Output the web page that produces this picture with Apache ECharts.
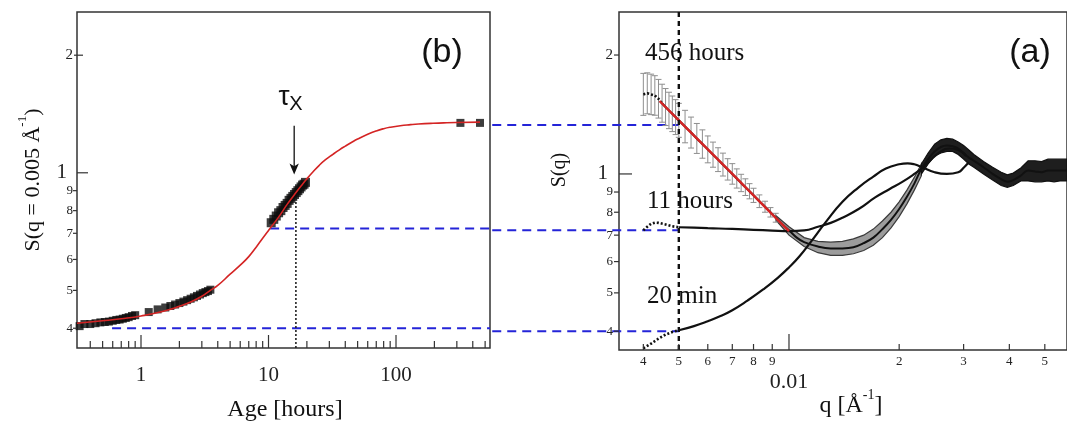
<!DOCTYPE html>
<html>
<head>
<meta charset="utf-8">
<script src="https://cdn.jsdelivr.net/npm/echarts@6/dist/echarts.min.js"></script>
<style>
  html, body { margin: 0; padding: 0; background: #fff; }
  #main { width: 1067px; height: 428px; }
</style>
</head>
<body>
<div id="main"></div>
<script>
// panel (b): S(q = 0.005) against age
const fitAge = [0.315, 0.5, 0.7, 1, 1.5, 2, 2.5, 3, 3.5, 4, 5, 6, 7, 8, 9, 10, 12, 14, 16, 18, 20, 22, 25, 28, 32, 36, 40, 45, 50, 60, 70, 80, 90, 108, 130, 150, 195, 250, 300, 456];
const fitS = [0.412, 0.418, 0.423, 0.430, 0.442, 0.455, 0.468, 0.483, 0.5, 0.515, 0.55, 0.58, 0.61, 0.645, 0.68, 0.712, 0.77, 0.83, 0.88, 0.925, 0.965, 1.0, 1.045, 1.08, 1.115, 1.145, 1.17, 1.197, 1.22, 1.255, 1.28, 1.297, 1.308, 1.32, 1.328, 1.333, 1.339, 1.343, 1.345, 1.348];
const ageEarly = [0.33, 0.36, 0.40, 0.44, 0.48, 0.52, 0.56, 0.60, 0.64, 0.68, 0.72, 0.76, 0.80, 0.85, 0.90, 1.15, 1.35, 1.55, 1.70, 1.85, 2.0, 2.15, 2.3, 2.45, 2.6, 2.75, 2.9, 3.05, 3.2, 3.35, 3.5];
const sEarly = [0.405, 0.41, 0.41, 0.412, 0.414, 0.415, 0.416, 0.418, 0.42, 0.421, 0.423, 0.425, 0.427, 0.43, 0.432, 0.44, 0.447, 0.452, 0.456, 0.46, 0.464, 0.468, 0.472, 0.476, 0.48, 0.484, 0.488, 0.492, 0.495, 0.498, 0.502];
const ageMid = [10.5, 11, 11.5, 12, 12.5, 13, 13.5, 14, 14.5, 15, 15.5, 16, 16.5, 17, 17.5, 18, 18.5, 19, 19.5];
const sMid = [0.745, 0.76, 0.775, 0.79, 0.80, 0.815, 0.825, 0.835, 0.85, 0.86, 0.87, 0.88, 0.89, 0.90, 0.91, 0.92, 0.93, 0.935, 0.945];
const ageLate = [320, 456];
const sLate = [1.342, 1.342];
const tauAge = 16.4, tauTopS = 0.86;
const arrowAge = 15.9, arrowFromS = 1.32, arrowToS = 1.008;

// dashed guides: S level, age where the left part starts (null = from panel edge)
const guideS = [0.4, 0.72, 1.33];
const guideAgeStart = [0.593, 10.3, null];
const guideQ = 0.005;
const gapQ = 0.001546; // q at the right edge of panel (b)

// panel (a): S(q)
const q20Low = [0.0040, 0.0042, 0.0044, 0.0046, 0.0048, 0.0050];
const s20Low = [0.362, 0.372, 0.383, 0.392, 0.398, 0.402];
const q20 = [0.0050, 0.0055, 0.006, 0.0065, 0.007, 0.0077, 0.0085, 0.0093, 0.010, 0.0107, 0.0115, 0.0126, 0.014, 0.0155, 0.017, 0.0184, 0.020, 0.0211, 0.022, 0.0231, 0.025, 0.027, 0.029, 0.0301, 0.031];
const s20 = [0.402, 0.412, 0.424, 0.437, 0.452, 0.478, 0.51, 0.545, 0.58, 0.62, 0.675, 0.755, 0.85, 0.925, 0.985, 1.032, 1.058, 1.064, 1.058, 1.04, 1.01, 1.0, 1.01, 1.04, 1.07];
const q11Low = [0.0040, 0.0041, 0.0042, 0.0043, 0.0044, 0.0046, 0.0048, 0.0050];
const s11Low = [0.72, 0.735, 0.748, 0.753, 0.752, 0.745, 0.737, 0.733];
const q11 = [0.0050, 0.0055, 0.006, 0.007, 0.008, 0.009, 0.010, 0.011, 0.012, 0.013, 0.014, 0.0155, 0.0172, 0.0188, 0.0204, 0.022, 0.0231, 0.024, 0.026, 0.0275, 0.029, 0.0305];
const s11 = [0.733, 0.731, 0.729, 0.726, 0.722, 0.719, 0.717, 0.72, 0.735, 0.752, 0.775, 0.815, 0.872, 0.915, 0.955, 1.0, 1.035, 1.07, 1.14, 1.16, 1.15, 1.11];
// 456 hours with error bars at low q
const errQ = [0.0040, 0.0041, 0.0042, 0.0043, 0.0044, 0.0045, 0.0046, 0.0047, 0.0048, 0.0049, 0.0050, 0.0052, 0.0054, 0.0056, 0.0058, 0.0060, 0.0062, 0.0064, 0.0066, 0.0068, 0.0070, 0.0072, 0.0074, 0.0076, 0.0078, 0.0080, 0.0083, 0.0086, 0.0089, 0.0092];
const errS = [1.59, 1.60, 1.59, 1.58, 1.55, 1.51, 1.477, 1.448, 1.420, 1.393, 1.367, 1.318, 1.273, 1.230, 1.191, 1.154, 1.119, 1.087, 1.056, 1.027, 1.000, 0.974, 0.949, 0.926, 0.904, 0.883, 0.853, 0.826, 0.800, 0.775];
const errLo = [1.407, 1.420, 1.413, 1.408, 1.385, 1.352, 1.326, 1.302, 1.280, 1.258, 1.238, 1.199, 1.163, 1.127, 1.096, 1.067, 1.040, 1.014, 0.988, 0.965, 0.942, 0.921, 0.902, 0.882, 0.865, 0.847, 0.822, 0.800, 0.778, 0.755];
const errHi = [1.797, 1.803, 1.789, 1.773, 1.735, 1.687, 1.645, 1.610, 1.575, 1.542, 1.509, 1.449, 1.393, 1.342, 1.293, 1.248, 1.204, 1.165, 1.129, 1.093, 1.062, 1.030, 0.998, 0.972, 0.945, 0.920, 0.885, 0.853, 0.822, 0.795];
const q456 = [0.0092, 0.0096, 0.010, 0.0105, 0.011, 0.012, 0.013, 0.014, 0.015, 0.016, 0.017, 0.018, 0.019, 0.020, 0.021, 0.022, 0.023, 0.024, 0.025, 0.026, 0.027, 0.028, 0.029, 0.030, 0.031, 0.032, 0.034, 0.036, 0.038, 0.0395, 0.041, 0.043, 0.045, 0.047, 0.049, 0.051, 0.053, 0.055, 0.0575];
const s456 = [0.775, 0.745, 0.72, 0.69, 0.672, 0.655, 0.648, 0.648, 0.652, 0.668, 0.69, 0.725, 0.765, 0.815, 0.875, 0.945, 1.03, 1.09, 1.14, 1.17, 1.18, 1.175, 1.16, 1.13, 1.10, 1.08, 1.04, 1.0, 0.97, 0.955, 0.965, 0.99, 1.02, 1.015, 1.01, 1.02, 1.02, 1.02, 1.02];
const qRed = [0.00443, 0.005, 0.006, 0.007, 0.008, 0.009, 0.010];
const sRed = [1.53, 1.367, 1.154, 1.0, 0.883, 0.79, 0.717];
// spread of the intermediate-age curves
const bandQ = [0.0092, 0.010, 0.011, 0.012, 0.013, 0.014, 0.015, 0.016, 0.017, 0.018, 0.019, 0.020, 0.021, 0.022, 0.023];
const bandLo = [0.765, 0.70, 0.655, 0.632, 0.622, 0.622, 0.628, 0.64, 0.66, 0.69, 0.73, 0.78, 0.84, 0.91, 0.99];
const bandHi = [0.785, 0.735, 0.69, 0.675, 0.672, 0.675, 0.685, 0.70, 0.725, 0.76, 0.80, 0.85, 0.91, 0.98, 1.06];
const darkQ = [0.023, 0.024, 0.025, 0.026, 0.027, 0.028, 0.029, 0.030, 0.031, 0.032, 0.034, 0.036, 0.038, 0.0395, 0.041, 0.043, 0.045, 0.047, 0.049, 0.051, 0.053, 0.055, 0.0575];
const darkLo = [1.0, 1.06, 1.11, 1.13, 1.14, 1.14, 1.12, 1.09, 1.06, 1.04, 1.0, 0.965, 0.935, 0.925, 0.935, 0.96, 0.96, 0.955, 0.955, 0.96, 0.955, 0.96, 0.96];
const darkHi = [1.06, 1.13, 1.19, 1.22, 1.23, 1.225, 1.205, 1.18, 1.15, 1.12, 1.075, 1.04, 1.01, 0.995, 1.005, 1.035, 1.08, 1.08, 1.075, 1.09, 1.09, 1.09, 1.09];

// ticks
const ageMajor = [1, 10, 100];
const ageMajorLabels = ['1', '10', '100'];
const ageMinor = [0.4, 0.5, 0.6, 0.7, 0.8, 0.9, 2, 3, 4, 5, 6, 7, 8, 9, 20, 30, 40, 50, 60, 70, 80, 90, 200, 300, 400, 500];
const sMinor = [0.4, 0.5, 0.6, 0.7, 0.8, 0.9];
const sMinorLabels = ['4', '5', '6', '7', '8', '9'];
const qMinor = [0.004, 0.005, 0.006, 0.007, 0.008, 0.009, 0.02, 0.03, 0.04, 0.05];
const qMinorLabels = ['4', '5', '6', '7', '8', '9', '2', '3', '4', '5'];
const qMajor = [0.01];
const qMajorLabels = ['0.01'];

const ageMin = 0.3148, ageMax = 546;
const qMin = 0.003432, qMax = 0.05749;
const sMinL = 0.356, sMaxL = 2.58;
const sMinR = 0.3584, sMaxR = 2.57;

const SERIF = 'Liberation Serif';
const SANS = 'Liberation Sans';
const zip = (a, b) => a.map((v, i) => [v, b[i]]);

function xTicks(xi, yi, vals, labels, yAt, len, font, gap) {
  return {
    type: 'custom', xAxisIndex: xi, yAxisIndex: yi, silent: true, clip: false, z: 8,
    data: vals.map(v => [v, yAt]),
    renderItem(params, api) {
      const i = params.dataIndex;
      const p = api.coord([vals[i], yAt]);
      const kids = [{ type: 'line', shape: { x1: p[0], y1: p[1], x2: p[0], y2: p[1] - len },
        style: { stroke: '#333', lineWidth: 1.2 } }];
      if (labels) kids.push({ type: 'text', x: p[0], y: p[1] + gap,
        style: { text: labels[i], font: font, fill: '#222', align: 'center', verticalAlign: 'middle',
          textAlign: 'center', textVerticalAlign: 'middle' } });
      return { type: 'group', children: kids };
    }
  };
}

function yTicks(xi, yi, vals, labels, xAt, out, len, font, gap) {
  return {
    type: 'custom', xAxisIndex: xi, yAxisIndex: yi, silent: true, clip: false, z: 8,
    data: vals.map(v => [xAt, v]),
    renderItem(params, api) {
      const i = params.dataIndex;
      const p = api.coord([xAt, vals[i]]);
      const kids = [{ type: 'line', shape: { x1: p[0] - out, y1: p[1], x2: p[0] + len, y2: p[1] },
        style: { stroke: '#333', lineWidth: 1.2 } }];
      if (labels) kids.push({ type: 'text', x: p[0] - gap, y: p[1],
        style: { text: labels[i], font: font, fill: '#222', align: 'right', verticalAlign: 'middle',
          textAlign: 'right', textVerticalAlign: 'middle' } });
      return { type: 'group', children: kids };
    }
  };
}

function band(xi, yi, qs, lo, hi, fill, stroke, z) {
  return {
    type: 'custom', xAxisIndex: xi, yAxisIndex: yi, silent: true, z: z,
    data: [[qs[0], lo[0]]],
    renderItem(params, api) {
      const top = qs.map((q, i) => api.coord([q, hi[i]]));
      const bot = qs.map((q, i) => api.coord([q, lo[i]])).reverse();
      return { type: 'polygon', shape: { points: top.concat(bot) },
        style: { fill: fill, stroke: stroke, lineWidth: 1.2 } };
    }
  };
}

const chartDom = document.getElementById('main');
const myChart = echarts.init(chartDom);

const blue = '#2424d8';
const guideSeries = [];
guideS.forEach((s, i) => {
  if (guideAgeStart[i] !== null) {
    guideSeries.push({ type: 'line', xAxisIndex: 0, yAxisIndex: 0, symbol: 'none', z: 2,
      data: [[guideAgeStart[i], s], [ageMax, s]],
      lineStyle: { color: blue, width: 2, type: [9, 6] } });
  }
});
// right-hand part of the guides, starting at the edge of panel (b)
guideSeries.push({
  type: 'custom', xAxisIndex: 1, yAxisIndex: 1, silent: true, clip: false, z: 2,
  data: guideS.map(s => [guideQ, s]),
  renderItem(params, api) {
    const s = guideS[params.dataIndex];
    const a = api.coord([gapQ, s]);
    const b = api.coord([guideQ, s]);
    return { type: 'line', shape: { x1: a[0], y1: a[1], x2: b[0], y2: b[1] },
      style: { stroke: blue, lineWidth: 2, lineDash: [9, 6] } };
  }
});

const option = {
  animation: false,
  backgroundColor: '#fff',
  grid: [
    { left: 77, top: 12, width: 413, height: 336, show: true, borderColor: '#333', borderWidth: 1.5, backgroundColor: 'transparent' },
    { left: 619, top: 12, width: 456, height: 338, show: true, borderColor: '#333', borderWidth: 1.5, backgroundColor: 'transparent' }
  ],
  xAxis: [
    { type: 'log', logBase: 10, gridIndex: 0, min: ageMin, max: ageMax,
      axisLine: { show: false }, axisTick: { show: false }, axisLabel: { show: false }, splitLine: { show: false } },
    { type: 'log', logBase: 10, gridIndex: 1, min: qMin, max: qMax,
      axisLine: { show: false }, axisTick: { show: false }, axisLabel: { show: false }, splitLine: { show: false } }
  ],
  yAxis: [
    { type: 'log', logBase: 10, gridIndex: 0, min: sMinL, max: sMaxL,
      axisLine: { show: false }, axisTick: { show: false }, axisLabel: { show: false }, splitLine: { show: false } },
    { type: 'log', logBase: 10, gridIndex: 1, min: sMinR, max: sMaxR,
      axisLine: { show: false }, axisTick: { show: false }, axisLabel: { show: false }, splitLine: { show: false } }
  ],
  series: [
    ...guideSeries,
    // panel (b)
    { type: 'scatter', xAxisIndex: 0, yAxisIndex: 0, symbol: 'rect', symbolSize: 8, z: 3,
      itemStyle: { color: '#0c0c0c' }, data: zip(ageEarly, sEarly) },
    { type: 'scatter', xAxisIndex: 0, yAxisIndex: 0, symbol: 'rect', symbolSize: 9, z: 3,
      itemStyle: { color: '#0c0c0c' }, data: zip(ageMid, sMid) },
    { type: 'scatter', xAxisIndex: 0, yAxisIndex: 0, symbol: 'rect', symbolSize: 8, z: 3,
      itemStyle: { color: '#0c0c0c' }, data: zip(ageLate, sLate) },
    { type: 'line', xAxisIndex: 0, yAxisIndex: 0, symbol: 'none', smooth: 0.5, z: 4,
      lineStyle: { color: '#d42424', width: 1.6 }, data: zip(fitAge, fitS) },
    { type: 'line', xAxisIndex: 0, yAxisIndex: 0, symbol: 'none', z: 4,
      lineStyle: { color: '#222', width: 1.6, type: [2, 2] }, data: [[tauAge, sMinL], [tauAge, tauTopS]] },
    { type: 'line', xAxisIndex: 0, yAxisIndex: 0, z: 4, showSymbol: true,
      lineStyle: { color: '#111', width: 1.3 }, itemStyle: { color: '#111' },
      data: [{ value: [arrowAge, arrowFromS], symbol: 'none' },
             { value: [arrowAge, arrowToS], symbol: 'arrow', symbolSize: [7, 11], symbolRotate: 180, symbolOffset: [0, 3] }] },
    // panel (a)
    band(1, 1, bandQ, bandLo, bandHi, '#9c9c9c', '#3a3a3a', 1),
    band(1, 1, darkQ, darkLo, darkHi, '#1e1e1e', '#111', 1),
    {
      type: 'custom', xAxisIndex: 1, yAxisIndex: 1, silent: true, z: 2,
      data: errQ.map((q, i) => [q, errLo[i], errHi[i]]),
      encode: { x: 0, y: [1, 2] },
      renderItem(params, api) {
        const lo = api.coord([api.value(0), api.value(1)]);
        const hi = api.coord([api.value(0), api.value(2)]);
        const st = { stroke: '#8e8e8e', lineWidth: 1 };
        return { type: 'group', children: [
          { type: 'line', shape: { x1: lo[0], y1: lo[1], x2: hi[0], y2: hi[1] }, style: st },
          { type: 'line', shape: { x1: hi[0] - 3, y1: hi[1], x2: hi[0] + 3, y2: hi[1] }, style: st },
          { type: 'line', shape: { x1: lo[0] - 3, y1: lo[1], x2: lo[0] + 3, y2: lo[1] }, style: st }
        ] };
      }
    },
    { type: 'line', xAxisIndex: 1, yAxisIndex: 1, symbol: 'none', z: 3,
      lineStyle: { color: '#111', width: 2.6, type: [2, 2] }, data: zip(q20Low, s20Low) },
    { type: 'line', xAxisIndex: 1, yAxisIndex: 1, symbol: 'none', smooth: 0.5, z: 3,
      lineStyle: { color: '#111', width: 2.2 }, data: zip(q20, s20) },
    { type: 'line', xAxisIndex: 1, yAxisIndex: 1, symbol: 'none', z: 3,
      lineStyle: { color: '#111', width: 2.6, type: [2, 2] }, data: zip(q11Low, s11Low) },
    { type: 'line', xAxisIndex: 1, yAxisIndex: 1, symbol: 'none', smooth: 0.5, z: 3,
      lineStyle: { color: '#111', width: 2.2 }, data: zip(q11, s11) },
    { type: 'line', xAxisIndex: 1, yAxisIndex: 1, symbol: 'none', z: 3,
      lineStyle: { color: '#111', width: 2.6, type: [2, 2] }, data: zip(errQ.slice(0, 6), errS.slice(0, 6)) },
    { type: 'line', xAxisIndex: 1, yAxisIndex: 1, symbol: 'none', smooth: 0.4, z: 3,
      lineStyle: { color: '#111', width: 2 }, data: zip(errQ.slice(5), errS.slice(5)).concat(zip(q456, s456)) },
    { type: 'line', xAxisIndex: 1, yAxisIndex: 1, symbol: 'none', z: 5,
      lineStyle: { color: '#d42424', width: 2.4 }, data: zip(qRed, sRed) },
    { type: 'line', xAxisIndex: 1, yAxisIndex: 1, symbol: 'none', z: 6,
      lineStyle: { color: '#111', width: 2.4, type: [5, 4] }, data: [[guideQ, sMinR], [guideQ, sMaxR]] },
    // ticks
    xTicks(0, 0, ageMinor, null, sMinL, 7),
    xTicks(0, 0, ageMajor, ageMajorLabels, sMinL, 13, '21px ' + SERIF, 27),
    yTicks(0, 0, sMinor, sMinorLabels, ageMin, 4, 0, '13px ' + SERIF, 4),
    yTicks(0, 0, [1], ['1'], ageMin, 0, 11, '21px ' + SERIF, 10),
    yTicks(0, 0, [2], ['2'], ageMin, 3, 6, '15px ' + SERIF, 4),
    xTicks(1, 1, qMinor, qMinorLabels, sMinR, 6, '13px ' + SERIF, 12),
    xTicks(1, 1, qMajor, qMajorLabels, sMinR, 16, '22px ' + SERIF, 32),
    yTicks(1, 1, sMinor, sMinorLabels, qMin, 5, 0, '13px ' + SERIF, 6),
    yTicks(1, 1, [1], ['1'], qMin, 0, 13, '21px ' + SERIF, 11),
    yTicks(1, 1, [2], ['2'], qMin, 5, 0, '15px ' + SERIF, 6)
  ],
  graphic: [
    { type: 'text', x: 442, y: 53, z: 100, style: { text: '(b)', font: '34px ' + SANS, fill: '#111',
      align: 'center', verticalAlign: 'middle', textAlign: 'center', textVerticalAlign: 'middle' } },
    { type: 'text', x: 1030, y: 53, z: 100, style: { text: '(a)', font: '34px ' + SANS, fill: '#111',
      align: 'center', verticalAlign: 'middle', textAlign: 'center', textVerticalAlign: 'middle' } },
    { type: 'text', x: 645, y: 53, z: 100, style: { text: '456 hours', font: '25px ' + SERIF, fill: '#111',
      align: 'left', verticalAlign: 'middle', textAlign: 'left', textVerticalAlign: 'middle' } },
    { type: 'text', x: 647, y: 201, z: 100, style: { text: '11 hours', font: '25px ' + SERIF, fill: '#111',
      align: 'left', verticalAlign: 'middle', textAlign: 'left', textVerticalAlign: 'middle' } },
    { type: 'text', x: 647, y: 296, z: 100, style: { text: '20 min', font: '25px ' + SERIF, fill: '#111',
      align: 'left', verticalAlign: 'middle', textAlign: 'left', textVerticalAlign: 'middle' } },
    { type: 'text', x: 284, y: 97, z: 100, style: { text: 'τ', font: '28px ' + SANS, fill: '#111',
      align: 'center', verticalAlign: 'middle', textAlign: 'center', textVerticalAlign: 'middle' } },
    { type: 'text', x: 296, y: 104, z: 100, style: { text: 'X', font: '20px ' + SANS, fill: '#111',
      align: 'center', verticalAlign: 'middle', textAlign: 'center', textVerticalAlign: 'middle' } },
    { type: 'text', x: 285, y: 410, z: 100, style: { text: 'Age [hours]', font: '24px ' + SERIF, fill: '#111',
      align: 'center', verticalAlign: 'middle', textAlign: 'center', textVerticalAlign: 'middle' } },
    { type: 'text', x: 851, y: 403, z: 100, style: {
      text: '{a|q [Å}{s|-1}{a|]}', fill: '#111',
      rich: { a: { font: '24px ' + SERIF, fill: '#111', lineHeight: 30, verticalAlign: 'bottom' },
              s: { font: '14px ' + SERIF, fill: '#111', lineHeight: 30, verticalAlign: 'top' } },
      align: 'center', verticalAlign: 'middle', textAlign: 'center', textVerticalAlign: 'middle' } },
    { type: 'text', x: 30, y: 180, rotation: Math.PI / 2, z: 100, style: {
      text: '{a|S(q = 0.005 Å}{s|-1}{a|)}', fill: '#111',
      rich: { a: { font: '22px ' + SERIF, fill: '#111', lineHeight: 28, verticalAlign: 'bottom' },
              s: { font: '13px ' + SERIF, fill: '#111', lineHeight: 28, verticalAlign: 'top' } },
      align: 'center', verticalAlign: 'middle', textAlign: 'center', textVerticalAlign: 'middle' } },
    { type: 'text', x: 560, y: 170, rotation: Math.PI / 2, z: 100, style: { text: 'S(q)', font: '20px ' + SERIF, fill: '#111',
      align: 'center', verticalAlign: 'middle', textAlign: 'center', textVerticalAlign: 'middle' } }
  ]
};

option && myChart.setOption(option);
</script>
</body>
</html>
